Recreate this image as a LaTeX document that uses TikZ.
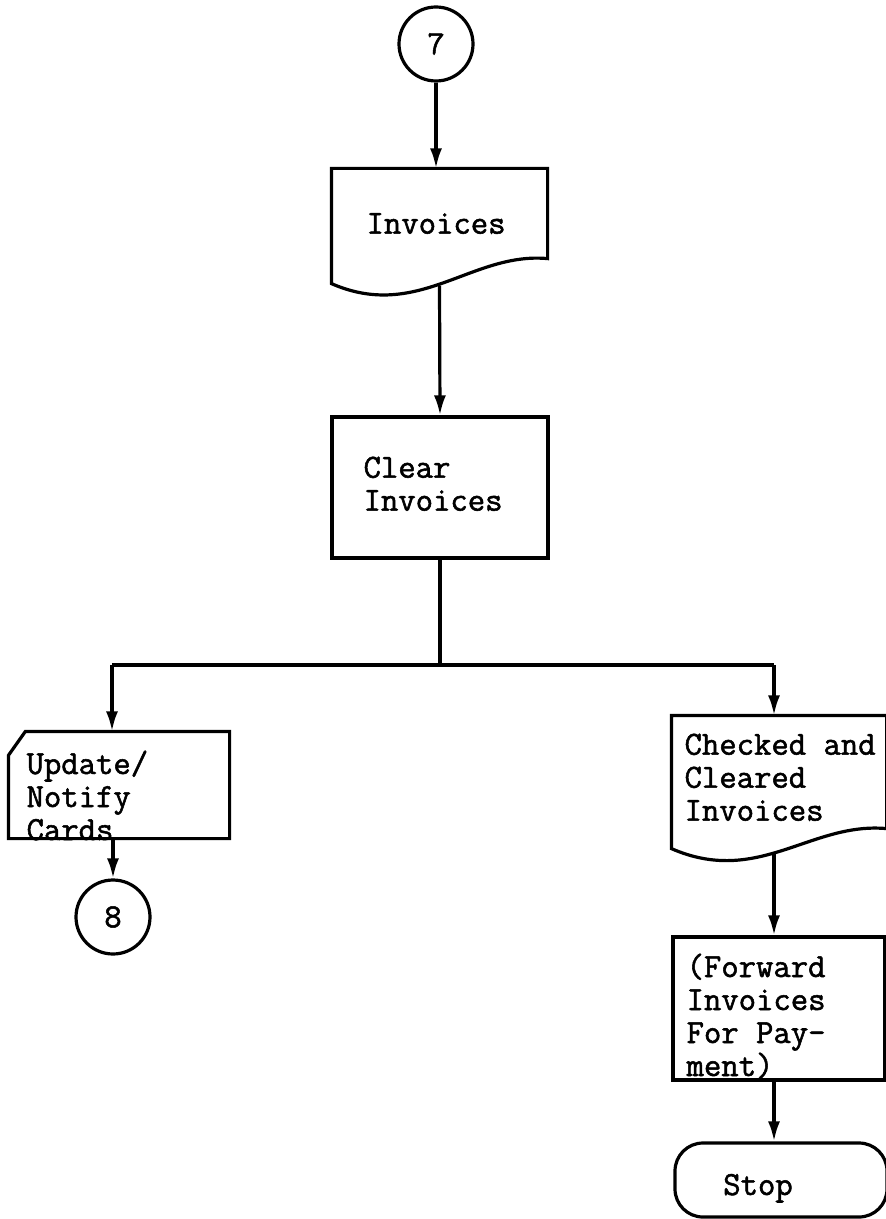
\documentclass[tikz,border=0pt]{standalone}
\usepackage{fontspec}
\setmonofont{Latin Modern Mono}[FakeBold=1.6]
\usetikzlibrary{arrows.meta}
\newcommand\chartfont{\fontsize{16.86}{16.5}\selectfont\ttfamily\lineskiplimit-10pt\relax}

\begin{document}
\begin{tikzpicture}[x=0.5pt,y=-0.5pt,line width=1.6pt,
    >={Latex[length=10pt,width=6pt]},
    box/.style={rectangle,inner sep=0pt},
    conn/.style={circle,draw,minimum size=37pt,inner sep=0pt,font=\chartfont},
    txt/.style={inner sep=0pt,anchor=north west,align=left,font=\chartfont}]
    \useasboundingbox (0,0) rectangle (886,1219);

    % Entry connector
    \node[conn] (c7) at (436,44) {7};

    % Invoices (document)
    \node[box,minimum width=106.5pt,minimum height=56pt] (inv) at (439.5,226) {};
    \draw ([yshift=12.5pt]inv.south east) .. controls +(-38pt,3.5pt) and +(43.5pt,-19pt) .. (inv.south west)
        -- (inv.north west) -- (inv.north east) -- cycle;
    \node[txt] (invt) at (365,209) {\strut Invoices};

    % Clear invoices (process)
    \node[box,draw,minimum width=108pt,minimum height=70.5pt] (clr) at (440,487.5) {};
    \node[txt] (clrt) at (362,453) {\strut Clear\\Invoices};

    % Split points
    \coordinate (jn) at (438,665);
    \coordinate (jl) at (112,665);
    \coordinate (jr) at (774,665);

    % Update/Notify cards (card)
    \node[box,minimum width=109pt,minimum height=52pt] (card) at (119,785) {};
    \draw ([xshift=8.5pt]card.north west) -- (card.north east) -- (card.south east)
        -- (card.south west) -- ([yshift=-12pt]card.north west) -- cycle;
    \node[txt] (cardt) at (25,749) {\strut Update/\\Notify\\Cards};

    % Exit connector
    \node[conn] (c8) at (113,917) {8};

    % Checked and cleared invoices (document)
    \node[box,minimum width=106pt,minimum height=65pt] (chk) at (779,782) {};
    \draw ([yshift=10pt]chk.south east) .. controls +(-38pt,3.5pt) and +(43.5pt,-19pt) .. (chk.south west)
        -- (chk.north west) -- (chk.north east) -- cycle;
    \node[txt] (chkt) at (683,730) {\strut Checked and\\Cleared\\Invoices};

    % Forward for payment (process)
    \node[box,draw,minimum width=106pt,minimum height=71.5pt] (fwd) at (779,1008.5) {};
    \node[txt] (fwdt) at (685,952) {\strut (Forward\\Invoices\\For Pay-\\ment)};

    % Terminal
    \node[box,draw,rounded corners=14pt,minimum width=106pt,minimum height=37pt] (stop) at (781,1180) {};
    \node[txt,anchor=base] (stopt) at (758,1195) {Stop};

    % Flow lines
    \draw[->] (c7) -- (c7 |- inv.north);
    \draw[->] ([yshift=-1pt]inv.south) -- (clr.north);
    \draw (clr.south) -- (clr.south |- jn);
    \draw (jl) -- (jr);
    \draw[->] (jl) -- (jl |- card.north);
    \draw[->] (jr) -- (jr |- chk.north);
    \draw[->] (c8 |- card.south) -- (c8);
    \draw[->] ([yshift=-2.5pt]jr |- chk.south) -- (jr |- fwd.north);
    \draw[->] (jr |- fwd.south) -- (jr |- stop.north);
\end{tikzpicture}
\end{document}
